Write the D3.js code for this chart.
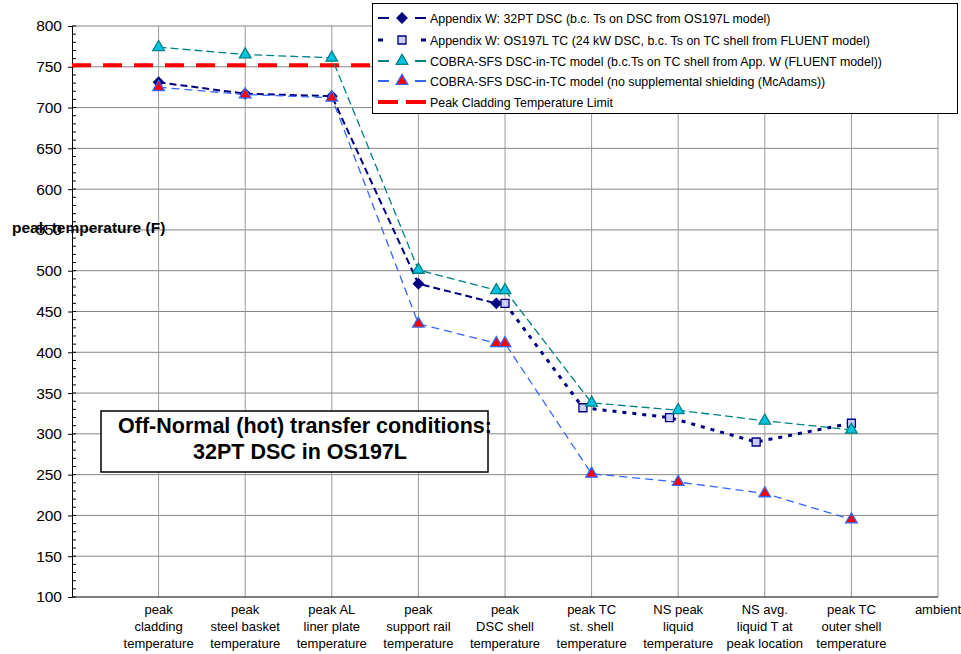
<!DOCTYPE html>
<html>
<head>
  <title>Off-Normal transfer conditions: 32PT DSC in OS197L</title>
  <script src="https://d3js.org/d3.v7.min.js"></script>
  <style>
    body { margin: 0; background: #fff; }
    text { font-family: "Liberation Sans", Arial, sans-serif; }
  </style>
</head>
<body>

<div id="chart"></div>

<script>
// Category labels (x positions 0..10, position 0 has no label)
const categories = [
  [],
  ["peak", "cladding", "temperature"],
  ["peak", "steel basket", "temperature"],
  ["peak AL", "liner plate", "temperature"],
  ["peak", "support rail", "temperature"],
  ["peak", "DSC shell", "temperature"],
  ["peak TC", "st. shell", "temperature"],
  ["NS peak", "liquid", "temperature"],
  ["NS avg.", "liquid T at", "peak location"],
  ["peak TC", "outer shell", "temperature"],
  ["ambient"]
];

const yTicks = [100, 150, 200, 250, 300, 350, 400, 450, 500, 550, 600, 650, 700, 750, 800];

// Appendix W: 32PT DSC
const dscX = [1, 2, 3, 4, 4.9];
const dscY = [731, 717, 714, 484, 460];

// Appendix W: OS197L TC
const tcX = [5, 5.9, 6.9, 7.9, 9];
const tcY = [460, 332, 320, 290, 313];

// COBRA-SFS runs share the same x positions
const cobraX = [1, 2, 3, 4, 4.9, 5, 6, 7, 8, 9];
const cobraFluentY = [774, 765, 761, 501, 476, 476, 338, 329, 316, 305];
const cobraMcAdamsY = [725, 716, 712, 435, 411, 411, 251, 241, 227, 195];

const pctLimit = 752;

const seriesNames = [
  "Appendix W: 32PT DSC (b.c. Ts on DSC from OS197L model)",
  "Appendix W: OS197L TC (24 kW DSC, b.c. Ts on TC shell from FLUENT model)",
  "COBRA-SFS DSC-in-TC model (b.c.Ts on TC shell from App. W (FLUENT model))",
  "COBRA-SFS DSC-in-TC model (no supplemental shielding (McAdams))",
  "Peak Cladding Temperature Limit"
];

const width = 961;
const height = 654;
const plot = { left: 72, right: 938, top: 26, bottom: 597 };

const svg = d3.select("#chart")
  .append("svg")
  .attr("width", width)
  .attr("height", height);

const x = d3.scaleLinear().domain([0, 10]).range([plot.left, plot.right]);
const y = d3.scaleLinear().domain([100, 800]).range([plot.bottom, plot.top]);

// gridlines
svg.append("g")
  .selectAll("line")
  .data(yTicks.slice(1))
  .enter().append("line")
  .attr("x1", plot.left).attr("x2", plot.right)
  .attr("y1", d => y(d)).attr("y2", d => y(d))
  .attr("stroke", "#858585").attr("stroke-width", 1);

svg.append("g")
  .selectAll("line")
  .data(d3.range(1, 11))
  .enter().append("line")
  .attr("x1", d => x(d)).attr("x2", d => x(d))
  .attr("y1", plot.top).attr("y2", plot.bottom)
  .attr("stroke", "#9a9a9a").attr("stroke-width", 1);

// y axis with minor ticks every 10
const yAxis = svg.append("g")
  .attr("transform", `translate(${plot.left},0)`)
  .call(d3.axisLeft(y).tickValues(yTicks).tickSize(4).tickPadding(6).tickSizeOuter(0));
yAxis.select(".domain").attr("stroke", "#000");
yAxis.selectAll("text").attr("font-size", 15.5).attr("fill", "#000")
  .attr("font-family", "'Liberation Sans', Arial, sans-serif");

svg.append("g")
  .selectAll("line")
  .data(d3.range(100, 801, 10))
  .enter().append("line")
  .attr("x1", plot.left).attr("x2", plot.left + 4)
  .attr("y1", d => y(d)).attr("y2", d => y(d))
  .attr("stroke", "#000");

// x axis line
svg.append("line")
  .attr("x1", plot.left).attr("x2", plot.right)
  .attr("y1", plot.bottom).attr("y2", plot.bottom)
  .attr("stroke", "#000");

// category labels
const catLabels = svg.append("g")
  .selectAll("text")
  .data(categories)
  .enter().append("text")
  .attr("text-anchor", "middle")
  .attr("font-size", 13)
  .attr("fill", "#000");

catLabels.each(function(lines, i) {
  d3.select(this).selectAll("tspan")
    .data(lines)
    .enter().append("tspan")
    .attr("x", x(i))
    .attr("y", (d, j) => 614 + j * 17)
    .text(d => d);
});

// y axis title (sits over the 550 label, as in the original)
svg.append("text")
  .attr("x", 12)
  .attr("y", 233)
  .attr("font-size", 15.5)
  .attr("font-weight", "bold")
  .text("peak temperature (F)");

// peak cladding temperature limit
svg.append("line")
  .attr("x1", x(0)).attr("x2", x(10))
  .attr("y1", y(pctLimit)).attr("y2", y(pctLimit))
  .attr("stroke", "#ff0000")
  .attr("stroke-width", 4)
  .attr("stroke-dasharray", "19,12");

const line = d3.line().x(d => x(d[0])).y(d => y(d[1]));

const series = [
  { xs: dscX, ys: dscY, stroke: "#000080", width: 2, dash: "7,4",
    marker: "diamond", fill: "#000080", mstroke: "#000080" },
  { xs: tcX, ys: tcY, stroke: "#000080", width: 3, dash: "4,6",
    marker: "square", fill: "#ccccff", mstroke: "#000080" },
  { xs: cobraX, ys: cobraFluentY, stroke: "#008080", width: 1.3, dash: "8,4",
    marker: "triangle", fill: "#00c4e4", mstroke: "#008080" },
  { xs: cobraX, ys: cobraMcAdamsY, stroke: "#3366ff", width: 1.3, dash: "8,5",
    marker: "triangle", fill: "#ff0000", mstroke: "#3366ff" }
];

function drawMarker(g, type, cx, cy, fill, stroke) {
  if (type === "diamond") {
    g.append("path")
      .attr("d", d3.symbol().type(d3.symbolSquare).size(55)())
      .attr("transform", `translate(${cx},${cy}) rotate(45)`)
      .attr("fill", fill).attr("stroke", stroke).attr("stroke-width", 1);
  } else if (type === "square") {
    g.append("path")
      .attr("d", d3.symbol().type(d3.symbolSquare).size(64)())
      .attr("transform", `translate(${cx},${cy})`)
      .attr("fill", fill).attr("stroke", stroke).attr("stroke-width", 1.3);
  } else {
    g.append("path")
      .attr("d", d3.symbol().type(d3.symbolTriangle).size(58)())
      .attr("transform", `translate(${cx},${cy})`)
      .attr("fill", fill).attr("stroke", stroke).attr("stroke-width", 1.3);
  }
}

// draw lines first, then markers on top
series.forEach(s => {
  const pts = s.xs.map((v, i) => [v, s.ys[i]]);
  svg.append("path")
    .datum(pts)
    .attr("d", line)
    .attr("fill", "none")
    .attr("stroke", s.stroke)
    .attr("stroke-width", s.width)
    .attr("stroke-dasharray", s.dash);
});

series.forEach(s => {
  const g = svg.append("g");
  s.xs.forEach((v, i) => drawMarker(g, s.marker, x(v), y(s.ys[i]), s.fill, s.mstroke));
});

// text box
const note = svg.append("g");
note.append("rect")
  .attr("x", 101).attr("y", 411)
  .attr("width", 387).attr("height", 61)
  .attr("fill", "#fff").attr("stroke", "#000").attr("stroke-width", 1.5);
note.append("text")
  .attr("x", 305).attr("y", 433)
  .attr("text-anchor", "middle")
  .attr("font-size", 21.5).attr("font-weight", "bold")
  .text("Off-Normal (hot) transfer conditions:");
note.append("text")
  .attr("x", 300).attr("y", 459)
  .attr("text-anchor", "middle")
  .attr("font-size", 21.5).attr("font-weight", "bold")
  .text("32PT DSC in OS197L");

// legend
const legend = svg.append("g");
legend.append("rect")
  .attr("x", 372.5).attr("y", 3.5)
  .attr("width", 585).attr("height", 110)
  .attr("fill", "#fff").attr("stroke", "#000").attr("stroke-width", 1);

const legendDash = ["11,26,11", "5,38,5", "11,26,11", "11,26,11"];
const legendY = [18, 40, 61, 81, 102];

series.forEach((s, i) => {
  legend.append("line")
    .attr("x1", 378).attr("x2", 426)
    .attr("y1", legendY[i]).attr("y2", legendY[i])
    .attr("stroke", s.stroke)
    .attr("stroke-width", i === 1 ? 3 : 2)
    .attr("stroke-dasharray", legendDash[i]);
  drawMarker(legend, s.marker, 402, legendY[i], s.fill, s.mstroke);
});

legend.append("line")
  .attr("x1", 378).attr("x2", 426)
  .attr("y1", legendY[4]).attr("y2", legendY[4])
  .attr("stroke", "#ff0000").attr("stroke-width", 4)
  .attr("stroke-dasharray", "20,8,20");

legend.selectAll("text.lbl")
  .data(seriesNames)
  .enter().append("text")
  .attr("class", "lbl")
  .attr("x", 430)
  .attr("y", (d, i) => legendY[i] + 4.5)
  .attr("font-size", 12.4)
  .text(d => d);
</script>

</body>
</html>
